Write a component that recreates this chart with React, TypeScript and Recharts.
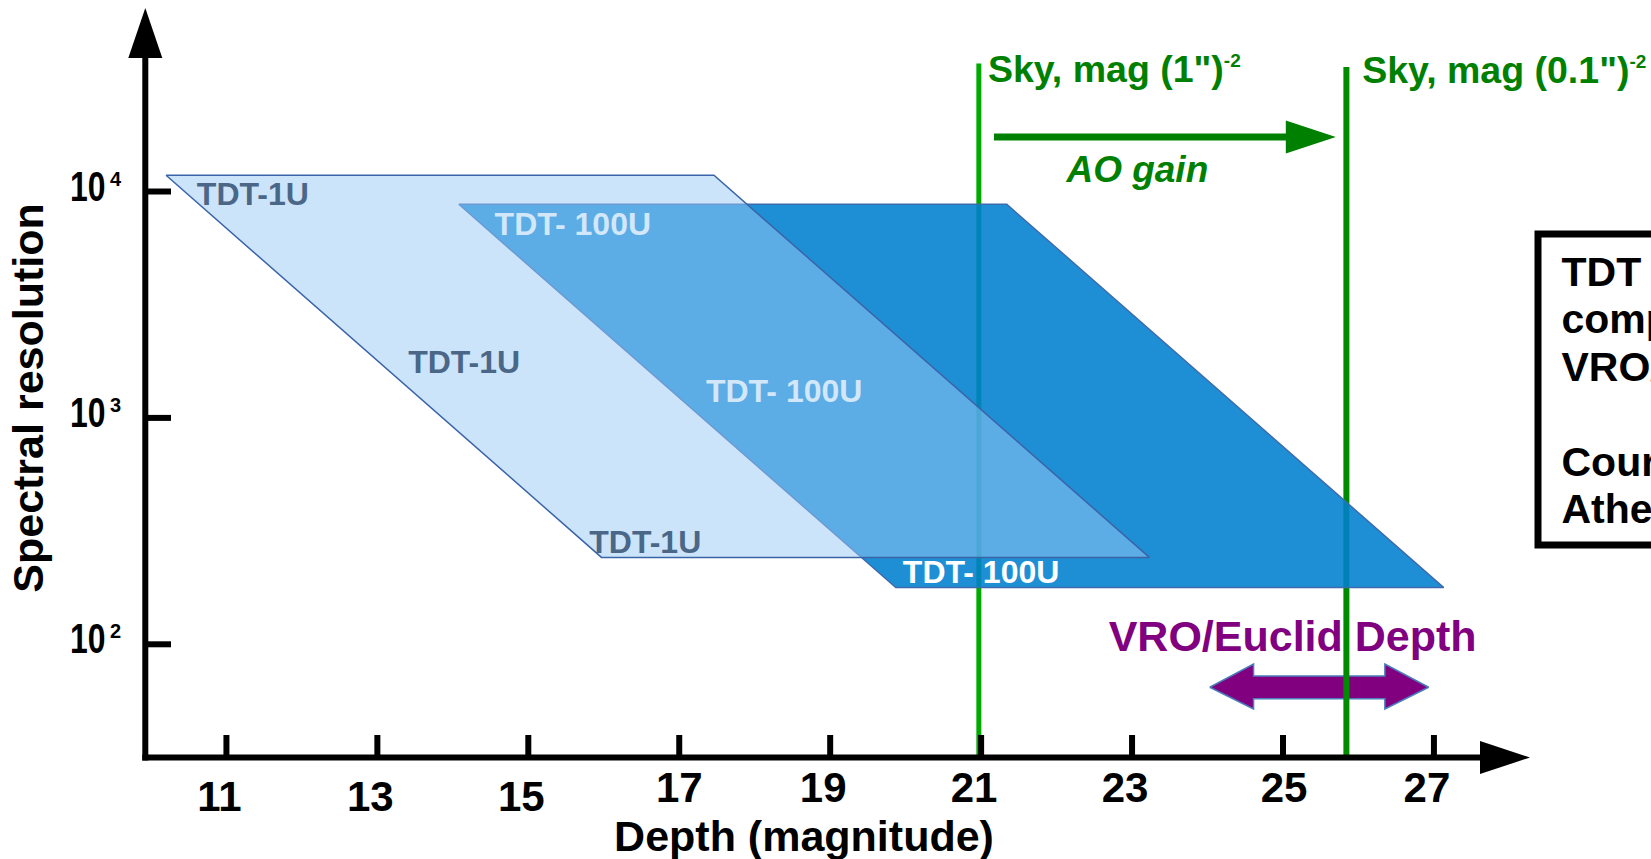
import React from 'react';
import { ComposedChart, XAxis, YAxis, Area, Line, ReferenceDot } from 'recharts';

const FONT = '"Liberation Sans", Arial, Helvetica, sans-serif';

// ---- axes ----
const xTicks = [11, 13, 15, 17, 19, 21, 23, 25, 27];
const yTicks = [100, 1000, 10000];
const xDomain: [number, number] = [9.925, 27.743];
const yDomain: [number, number] = [31.62, 46690];

// ---- parallelograms: mags [top-left, top-right, bottom-left, bottom-right], R [top, bottom]
const tdt1uMag = [10.2, 17.46, 15.97, 23.23];
const tdt1uR = [11800, 242];
const tdt100uMag = [14.08, 21.34, 19.87, 27.13];
const tdt100uR = [8780, 178];

// ---- labels inside the parallelograms (centre positions)
const tdt1uLabel = 'TDT-1U';
const tdt1uLabelMag = [11.35, 14.15, 16.55];
const tdt1uLabelR = [8720, 1580, 252];
const tdt100uLabel = 'TDT- 100U';
const tdt100uLabelMag = [15.59, 18.39, 21.0];
const tdt100uLabelR = [6430, 1176, 187];

// ---- sky lines
const skyLineMag = [20.97, 25.84];
const skyLineTopR = [36800, 35500];
const skyLabels = ['Sky, mag (1")', 'Sky, mag (0.1")'];
const skyLabelMag = [21.09, 26.05];
const skyLabelR = [30460, 30150];

// ---- AO gain arrow: [shaft start, head base, tip]
const aoArrowMag = [21.17, 25.04, 25.7];
const aoArrowR = 17400;
const aoLabel = 'AO gain';
const aoLabelMag = 23.07;
const aoLabelR = 11050;

// ---- VRO/Euclid depth double arrow: mags [left tip, left head base, right head base, right tip]
const vroMag = [24.03, 24.61, 26.35, 26.93];
// R [head low, shaft low, middle, shaft high, head high]
const vroR = [51.8, 57.5, 64.6, 72.4, 81.8];
const vroLabel = 'VRO/Euclid Depth';
const vroLabelMag = 22.69;
const vroLabelR = 93.7;

// ---- text box (cut by the page edge, as in the reference)
const boxLines = ['TDT', 'comp', 'VRO/', '', 'Cour', 'Athe'];

const W = 1651;
const H = 859;
const PLOT = { left: 145.3, top: 40, right: 1490, bottom: 757.5 };

function parallelogram(m: number[], r: number[]) {
  const [tl, tr, bl, br] = m;
  const [top, bot] = r;
  return [
    { x: tl, r: [top, top] },
    { x: bl, r: [bot, top] },
    { x: tr, r: [bot, top] },
    { x: br, r: [bot, bot] },
  ];
}

const tdt1uData = parallelogram(tdt1uMag, tdt1uR);
const tdt100uData = parallelogram(tdt100uMag, tdt100uR);

const vroData = [
  { x: vroMag[0], r: [vroR[2], vroR[2]] },
  { x: vroMag[1], r: [vroR[0], vroR[4]] },
  { x: vroMag[1], r: [vroR[1], vroR[3]] },
  { x: vroMag[2], r: [vroR[1], vroR[3]] },
  { x: vroMag[2], r: [vroR[0], vroR[4]] },
  { x: vroMag[3], r: [vroR[2], vroR[2]] },
];

const aoShaft = [
  { x: aoArrowMag[0], r: aoArrowR },
  { x: aoArrowMag[1], r: aoArrowR },
];

function XTick(props: any) {
  const { x, payload } = props;
  const v = payload.value;
  const dx = v === 17 ? 0 : v === 25 ? 1 : -7;
  const base = v <= 15 ? 811 : 802;
  return (
    <g>
      <line x1={x} x2={x} y1={PLOT.bottom} y2={735} stroke="#000" strokeWidth={6} />
      <text x={x + dx} y={base} textAnchor="middle" fontFamily={FONT} fontWeight={700} fontSize={42} fill="#000">
        {v}
      </text>
    </g>
  );
}

function YTick(props: any) {
  const { y, payload } = props;
  const exp = Math.round(Math.log10(payload.value));
  return (
    <g>
      <line x1={PLOT.left} x2={171} y1={y} y2={y} stroke="#000" strokeWidth={6} />
      <text
        x={0}
        y={0}
        transform={`translate(70, ${y + 9}) scale(0.76, 1)`}
        fontFamily={FONT}
        fontWeight={700}
        fontSize={42}
        fill="#000"
      >
        10
      </text>
      <text x={110} y={y - 6} fontFamily={FONT} fontWeight={700} fontSize={20} fill="#000">
        {exp}
      </text>
    </g>
  );
}

function XTitle() {
  return (
    <text x={804} y={851} textAnchor="middle" fontFamily={FONT} fontWeight={700} fontSize={43} fill="#000">
      Depth (magnitude)
    </text>
  );
}

function YTitle() {
  return (
    <text x={43} y={398} transform="rotate(-90, 43, 398)" textAnchor="middle" fontFamily={FONT} fontWeight={700} fontSize={43} fill="#000">
      Spectral resolution
    </text>
  );
}

const textShape = (text: string, color: string, size: number, anchor: string = 'start', italic = false) => (p: any) => (
  <text x={p.cx} y={p.cy} textAnchor={anchor} fontFamily={FONT} fontWeight={700} fontStyle={italic ? 'italic' : 'normal'} fontSize={size} fill={color}>
    {text}
  </text>
);

const skyShape = (text: string) => (p: any) => (
  <text x={p.cx} y={p.cy} fontFamily={FONT} fontWeight={700} fontSize={37.5} fill="#008000">
    {text}
    <tspan dy={-15} fontSize={19}>-2</tspan>
  </text>
);

export default function App() {
  return (
    <div style={{ position: 'absolute', left: 0, top: 0, width: W, height: H, overflow: 'hidden', background: '#fff' }}>
      <ComposedChart
        width={W}
        height={H}
        margin={{ top: PLOT.top, right: W - PLOT.right, bottom: H - PLOT.bottom - 90, left: PLOT.left - 100 }}
      >
        <XAxis
          type="number"
          dataKey="x"
          domain={xDomain}
          allowDataOverflow
          ticks={xTicks}
          interval={0}
          height={90}
          tickLine={false}
          axisLine={{ stroke: '#000', strokeWidth: 6, strokeLinecap: 'square' }}
          tick={(p: any) => <XTick {...p} />}
          label={<XTitle />}
        />
        <YAxis
          type="number"
          scale="log"
          domain={yDomain}
          allowDataOverflow
          ticks={yTicks}
          interval={0}
          width={100}
          tickLine={false}
          axisLine={{ stroke: '#000', strokeWidth: 6, strokeLinecap: 'square' }}
          tick={(p: any) => <YTick {...p} />}
          label={<YTitle />}
        />

        <Area
          data={vroData}
          dataKey="r"
          type="linear"
          fill="#800080"
          fillOpacity={1}
          stroke="#4A7EBB"
          strokeWidth={1.5}
          isAnimationActive={false}
          zIndex={80}
        />

        {skyLineMag.map((m, i) => (
          <Line
            key={'sky' + i}
            data={[
              { x: m, r: yDomain[0] },
              { x: m, r: skyLineTopR[i] },
            ]}
            dataKey="r"
            type="linear"
            stroke={i === 0 ? '#00AA00' : '#008A00'}
            strokeWidth={i === 0 ? 5 : 6}
            dot={false}
            activeDot={false}
            isAnimationActive={false}
            zIndex={90}
          />
        ))}

        <Area
          data={tdt100uData}
          dataKey="r"
          type="linear"
          fill="#0080CF"
          fillOpacity={0.88}
          stroke="#3D6BB0"
          strokeWidth={1.5}
          isAnimationActive={false}
          zIndex={100}
        />
        <Area
          data={tdt1uData}
          dataKey="r"
          type="linear"
          fill="#99C9F5"
          fillOpacity={0.5}
          stroke="#3A64A8"
          strokeWidth={1.5}
          isAnimationActive={false}
          zIndex={101}
        />

        <Line
          data={aoShaft}
          dataKey="r"
          type="linear"
          stroke="#008000"
          strokeWidth={7}
          dot={false}
          activeDot={false}
          isAnimationActive={false}
        />

        <ReferenceDot
          x={aoArrowMag[2]}
          y={aoArrowR}
          r={1}
          ifOverflow="visible"
          shape={(p: any) => (
            <polygon
              points={`${p.cx},${p.cy} ${p.cx - 50},${p.cy - 16.5} ${p.cx - 50},${p.cy + 16.5}`}
              fill="#008000"
            />
          )}
        />

        {/* axis arrowheads */}
        <ReferenceDot
          x={xDomain[1]}
          y={yDomain[0]}
          r={1}
          ifOverflow="visible"
          shape={(p: any) => (
            <polygon points={`${p.cx + 40},${p.cy} ${p.cx - 10},${p.cy - 16.5} ${p.cx - 10},${p.cy + 16.5}`} fill="#000" />
          )}
        />
        <ReferenceDot
          x={xDomain[0]}
          y={yDomain[1]}
          r={1}
          ifOverflow="visible"
          shape={(p: any) => (
            <polygon points={`${p.cx},${p.cy - 32} ${p.cx - 17},${p.cy + 18} ${p.cx + 17},${p.cy + 18}`} fill="#000" />
          )}
        />

        {tdt100uLabelMag.map((m, i) => (
          <ReferenceDot
            key={'l100' + i}
            x={m}
            y={tdt100uLabelR[i]}
            r={1}
            ifOverflow="visible"
            zIndex={1000}
            shape={textShape(tdt100uLabel, i < 2 ? '#D2E7F9' : '#FFFFFF', 32, 'middle')}
          />
        ))}
        {tdt1uLabelMag.map((m, i) => (
          <ReferenceDot
            key={'l1' + i}
            x={m}
            y={tdt1uLabelR[i]}
            r={1}
            ifOverflow="visible"
            zIndex={1000}
            shape={textShape(tdt1uLabel, '#4B6788', 32, 'middle')}
          />
        ))}
        {skyLabels.map((s, i) => (
          <ReferenceDot
            key={'skyl' + i}
            x={skyLabelMag[i]}
            y={skyLabelR[i]}
            r={1}
            ifOverflow="visible"
            zIndex={1000}
            shape={skyShape(s)}
          />
        ))}
        <ReferenceDot
          x={aoLabelMag}
          y={aoLabelR}
          r={1}
          ifOverflow="visible"
          zIndex={1000}
          shape={textShape(aoLabel, '#008000', 37, 'middle', true)}
        />
        <ReferenceDot
          x={vroLabelMag}
          y={vroLabelR}
          r={1}
          ifOverflow="visible"
          zIndex={1000}
          shape={textShape(vroLabel, '#800080', 43)}
        />
      </ComposedChart>

      <svg width={W} height={H} style={{ position: 'absolute', left: 0, top: 0, pointerEvents: 'none' }}>
        <rect x={1538} y={234} width={200} height={311} fill="none" stroke="#000" strokeWidth={7} />
        {boxLines.map((t, i) => (
          <text key={i} x={1561.5} y={286 + i * 47.4} fontFamily={FONT} fontWeight={700} fontSize={41} fill="#000">
            {t}
          </text>
        ))}
      </svg>
    </div>
  );
}
